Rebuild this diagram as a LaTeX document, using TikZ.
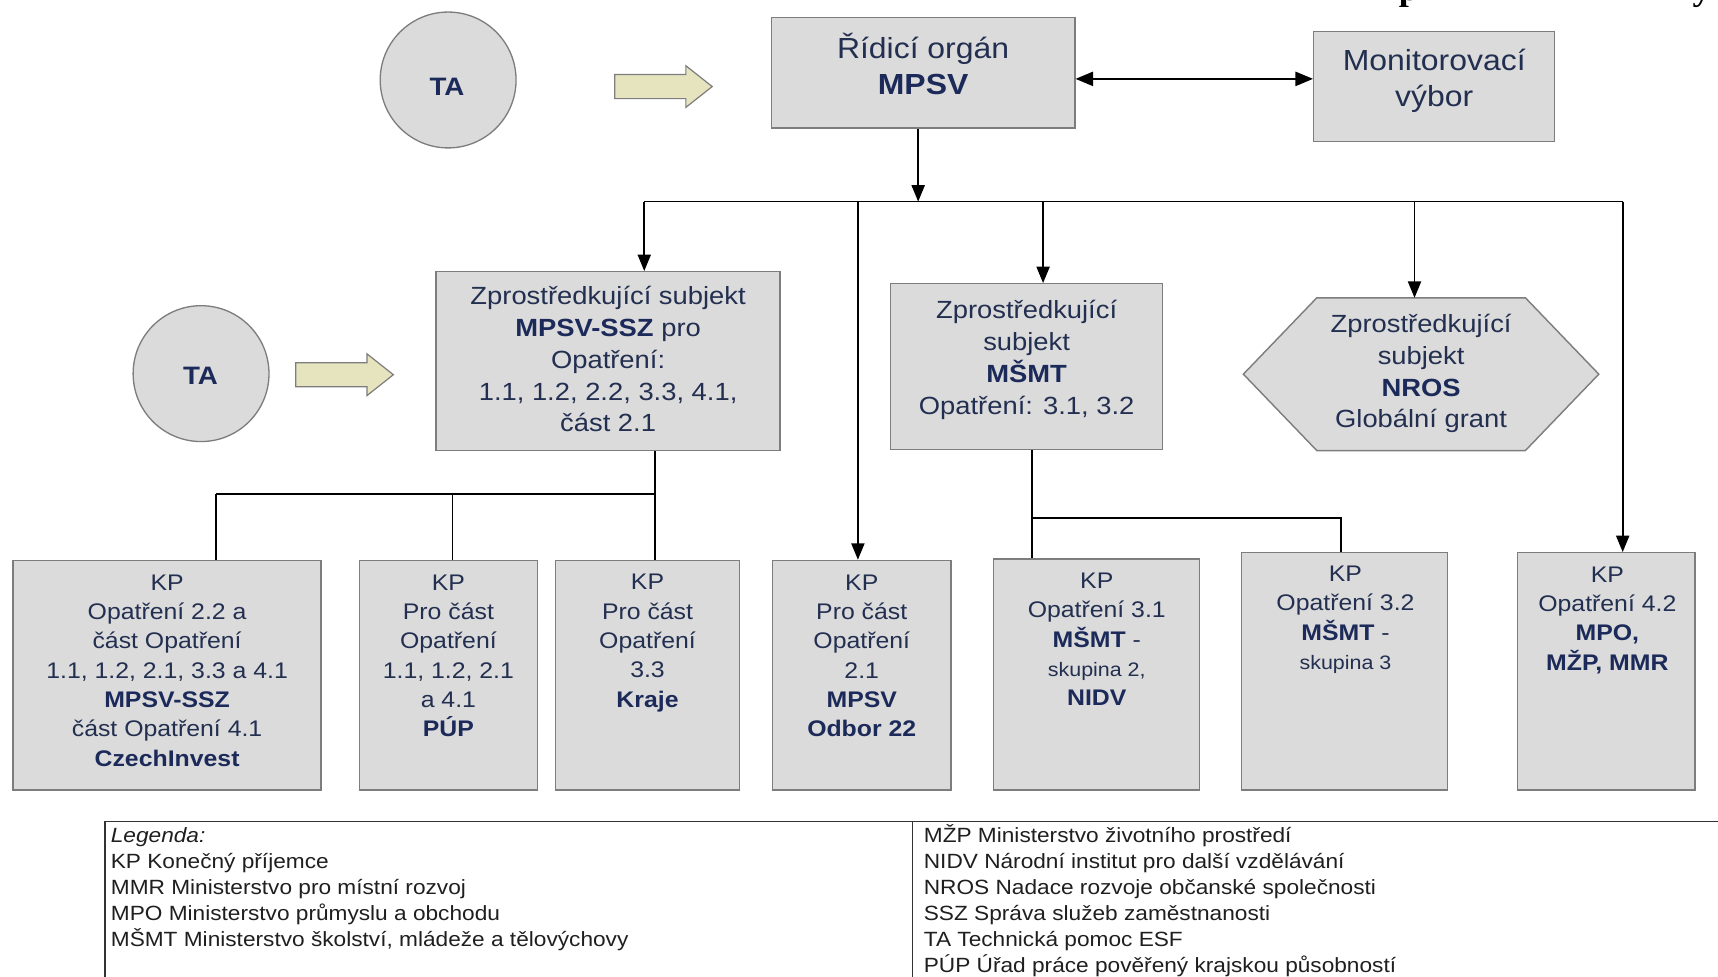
\documentclass[tikz,border=0pt]{standalone}
\usepackage{fontspec}
\setmainfont{Liberation Sans}[FakeStretch=1.10]
\newfontfamily\headserif{Liberation Serif}[FakeStretch=1.10]
\usetikzlibrary{arrows.meta,calc}
\definecolor{boxfill}{RGB}{219,219,219}
\definecolor{boxline}{RGB}{125,125,125}
\definecolor{arrfill}{RGB}{230,228,190}
\definecolor{txtcol}{RGB}{35,47,80}
\definecolor{boldcol}{RGB}{28,42,90}
\newcommand{\bt}[1]{\textbf{\color{boldcol}#1}}
\newcommand{\smalltxt}[1]{{\fontsize{17.8}{22}\selectfont #1}}
\begin{document}
\begin{tikzpicture}[x=1pt,y=-1pt,
  boxst/.style={draw=boxline,fill=boxfill,line width=1.3pt,inner sep=0pt},
  circst/.style={circle,draw=boxline,fill=boxfill,line width=1.2pt,inner sep=0pt,minimum size=124pt},
  blockarr/.style={draw=boxline,fill=arrfill,line width=1.1pt},
  conn/.style={line width=1.5pt,draw=black},
  arr/.style={conn,-{Triangle[length=15pt,width=12pt]}},
  dblarr/.style={conn,{Triangle[length=16pt,width=13pt]}-{Triangle[length=16pt,width=13pt]}},
  txtbig/.style={align=center,inner sep=0pt,text=txtcol,font=\fontsize{26.5}{33}\selectfont},
  txtmid/.style={align=center,inner sep=0pt,text=txtcol,font=\fontsize{22.7}{29}\selectfont},
  txtkp/.style={align=center,inner sep=0pt,text=txtcol,font=\fontsize{20.6}{26.8}\selectfont},
  tatxt/.style={inner sep=0pt,text=boldcol,font=\bfseries\fontsize{23}{26}\selectfont},
  legtxt/.style={align=left,inner sep=0pt,text=black!88,font=\fontsize{18.8}{23.8}\selectfont},
  legline/.style={draw=black!80,line width=1.3pt}]
\useasboundingbox (0,0) rectangle (1568,891);
\fill[white] (0,0) rectangle (1568,891);

% ---- top level
\node[circst] (ta1) at (409,73) {};
\node[tatxt] (ta1t) at (408,79) {TA};
\coordinate (ba1) at (561,79);
\draw[blockarr] (ba1) ++(0,-11) -- ++(65,0) -- ++(0,-8) -- ++(24,19) -- ++(-24,19) -- ++(0,-8) -- ++(-65,0) -- cycle;

\node[boxst,minimum width=277pt,minimum height=101pt] (ro) at (842.5,66.5) {};
\node[txtbig] (rot) at (842.5,58) {Řídicí orgán\\\bt{MPSV}};
\node[boxst,minimum width=220pt,minimum height=100pt] (mv) at (1309,79) {};
\node[txtbig] (mvt) at (1309,74) {Monitorovací\\výbor};
\coordinate (dblL) at ([yshift=-5.5pt]ro.east);
\draw[dblarr] (dblL) -- (dblL -| mv.west);

% ---- second level
\node[circst] (ta2) at (183.5,341) {};
\node[tatxt] (ta2t) at (183,343) {TA};
\coordinate (ba2) at (270,342);
\draw[blockarr] (ba2) ++(0,-11) -- ++(65,0) -- ++(0,-8) -- ++(24,19) -- ++(-24,19) -- ++(0,-8) -- ++(-65,0) -- cycle;

\node[boxst,minimum width=314pt,minimum height=163pt] (zs) at (555,329.5) {};
\node[txtmid] (zst) at (555,328) {Zprostředkující subjekt\\\bt{MPSV-SSZ} pro\\Opatření:\\1.1, 1.2, 2.2, 3.3, 4.1,\\část 2.1};
\node[boxst,minimum width=248pt,minimum height=151pt] (ms) at (937,334.5) {};
\node[txtmid] (mst) at (937,328.6) {Zprostředkující\\subjekt\\\bt{MŠMT}\\Opatření: 3.1, 3.2};
\node[inner sep=0pt,minimum width=324pt,minimum height=139pt] (nros) at (1297,341.5) {};
\draw[boxst] (nros.west) -- ($(nros.north west)+(67,0)$) -- ($(nros.north east)+(-67,0)$) -- (nros.east) -- ($(nros.south east)+(-67,0)$) -- ($(nros.south west)+(67,0)$) -- cycle;
\node[txtmid] (nrost) at (1297,341) {Zprostředkující\\subjekt\\\bt{NROS}\\Globální grant};

% ---- bottom level
\node[boxst,minimum width=281pt,minimum height=209.5pt] (kp1) at (152.5,616.25) {};
\node[txtkp] (kp1t) at (152.5,611.9) {KP\\Opatření 2.2 a\\část Opatření\\1.1, 1.2, 2.1, 3.3 a 4.1\\\bt{MPSV-SSZ}\\část Opatření 4.1\\\bt{CzechInvest}};
\node[boxst,minimum width=162.5pt,minimum height=209.5pt] (kp2) at (409.25,616.25) {};
\node[txtkp] (kp2t) at (409.25,598.5) {KP\\Pro část\\Opatření\\1.1, 1.2, 2.1\\a 4.1\\\bt{PÚP}};
\node[boxst,minimum width=168pt,minimum height=209.5pt] (kp3) at (591,616.25) {};
\node[txtkp] (kp3t) at (591,587) {KP\\Pro část\\Opatření\\3.3\\\bt{Kraje}};
\node[boxst,minimum width=163pt,minimum height=209.5pt] (kp4) at (786.5,616.25) {};
\node[txtkp] (kp4t) at (786.5,598.5) {KP\\Pro část\\Opatření\\2.1\\\bt{MPSV}\\\bt{Odbor 22}};
\node[boxst,minimum width=188pt,minimum height=211pt] (kp5) at (1001,615.5) {};
\node[txtkp] (kp5t) at (1001,583.5) {KP\\Opatření 3.1\\\bt{MŠMT} -\\\smalltxt{skupina 2,}\\\bt{NIDV}};
\node[boxst,minimum width=188pt,minimum height=216.5pt] (kp6) at (1227,612.75) {};
\node[txtkp] (kp6t) at (1228,565.8) {KP\\Opatření 3.2\\\bt{MŠMT} -\\\smalltxt{skupina 3}};
\node[boxst,minimum width=162pt,minimum height=216.5pt] (kp7) at (1466,612.75) {};
\node[txtkp] (kp7t) at (1467,565.9) {KP\\Opatření 4.2\\\bt{MPO,}\\\bt{MŽP, MMR}};

% ---- connectors
\coordinate (busL) at (588,184);
\coordinate (busR) at (1481,184);
\coordinate (busT) at (838,184);
\coordinate (busO) at (783,184);
\coordinate (busM) at (952,184);
\coordinate (busN) at (1291,184);
\draw[arr] (busT |- ro.south) -- (busT);
\draw[conn] (busL) -- (busR);
\draw[arr] (busL) -- (busL |- zs.north);
\draw[arr] (busO) -- (busO |- kp4.north);
\draw[arr] (busM) -- (busM |- ms.north);
\draw[arr] (busN) -- (busN |- nros.north);
\draw[arr] (busR) -- (busR |- kp7.north);

\coordinate (zsB) at (598,451);
\coordinate (zsL) at (197,451);
\coordinate (zsP) at (413,451);
\draw[conn] (zsB |- zs.south) -- (zsB);
\draw[conn] (zsL) -- (zsB);
\draw[conn] (zsL) -- (zsL |- kp1.north);
\draw[conn] (zsP) -- (zsP |- kp2.north);
\draw[conn] (zsB) -- (zsB |- kp3.north);

\coordinate (msB) at (942,473);
\coordinate (msR) at (1224,473);
\draw[conn] (msB |- ms.south) -- (msB |- kp5.north);
\draw[conn] (msB) -- (msR) -- (msR |- kp6.north);

% ---- legend and clipped heading
\begin{scope}
\clip (0,0) rectangle (1568,891);
\draw[legline] (96,905) -- (96,750) -- (1600,750);
\draw[legline] (833,750) -- (833,905);
\node[legtxt,anchor=north west] (legL) at (101,755) {\textit{Legenda:}\\KP Konečný příjemce\\MMR Ministerstvo pro místní rozvoj\\MPO Ministerstvo průmyslu a obchodu\\MŠMT Ministerstvo školství, mládeže a tělovýchovy};
\node[legtxt,anchor=north west] (legR) at (843,752) {MŽP Ministerstvo životního prostředí\\NIDV Národní institut pro další vzdělávání\\NROS Nadace rozvoje občanské společnosti\\SSZ Správa služeb zaměstnanosti\\TA Technická pomoc ESF\\PÚP Úřad práce pověřený krajskou působností};
\node[anchor=base,inner sep=0pt,font=\headserif\bfseries\fontsize{30}{30}\selectfont] (hp) at (1286,0.5) {p};
\node[anchor=base,inner sep=0pt,font=\headserif\bfseries\fontsize{30}{30}\selectfont] (hy) at (1553,0.5) {y};
\end{scope}
\end{tikzpicture}
\end{document}
